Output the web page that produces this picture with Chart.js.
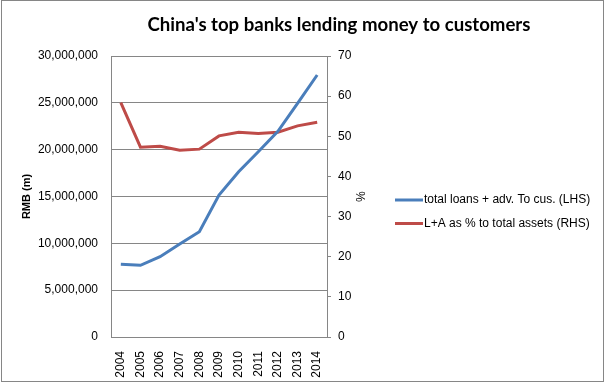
<!DOCTYPE html>
<html>
<head>
<meta charset="utf-8">
<script src="https://cdn.jsdelivr.net/npm/chart.js@4"></script>
<style>
  body { margin: 0; background: #fff; }
  canvas { display: block; }
</style>
</head>
<body>
<canvas id="bankChart" width="606" height="385"></canvas>
<script>
// Chart data
const chartTitle = "China's top banks lending money to customers";
const years = ["2004", "2005", "2006", "2007", "2008", "2009", "2010", "2011", "2012", "2013", "2014"];
const loanLabel = "total loans + adv. To cus. (LHS)";
const loans = [7760000, 7650000, 8570000, 9930000, 11240000, 15160000, 17650000, 19780000, 21950000, 24950000, 27970000];
const ratioLabel = "L+A as % to total assets (RHS)";
const ratio = [58.4, 47.3, 47.5, 46.5, 46.8, 50.1, 51.0, 50.7, 51.0, 52.6, 53.5];
const leftTicks = [0, 5000000, 10000000, 15000000, 20000000, 25000000, 30000000];
const rightTicks = [0, 10, 20, 30, 40, 50, 60, 70];

const gray = "#868686";
const font = "'Liberation Sans', Arial, sans-serif";

// Frame, title and legend drawn around the plot
const decorPlugin = {
  id: "decor",
  beforeDraw(chart) {
    const ctx = chart.ctx;
    ctx.save();
    ctx.fillStyle = "#fff";
    ctx.fillRect(0, 0, chart.width, chart.height);
    ctx.strokeStyle = gray;
    ctx.lineWidth = 1;
    ctx.strokeRect(1.5, 0.5, 602, 381);
    ctx.restore();
  },
  afterDraw(chart) {
    const ctx = chart.ctx;
    ctx.save();
    ctx.fillStyle = "#000";
    ctx.font = "bold 18.6px Lato, 'Open Sans', sans-serif";
    ctx.textAlign = "center";
    ctx.textBaseline = "middle";
    ctx.fillText(chartTitle, 339, 25);

    ctx.font = "12px " + font;
    ctx.textAlign = "left";
    chart.data.datasets.forEach((ds, i) => {
      const y = 200 + i * 23.5;
      ctx.strokeStyle = ds.borderColor;
      ctx.lineWidth = 3;
      ctx.beginPath();
      ctx.moveTo(395, y);
      ctx.lineTo(423, y);
      ctx.stroke();
      ctx.fillText(ds.label, 424, y);
    });
    ctx.restore();
  }
};

const ctx = document.getElementById("bankChart").getContext("2d");
new Chart(ctx, {
  type: "line",
  data: {
    labels: years,
    datasets: [
      {
        label: loanLabel,
        data: loans,
        yAxisID: "y",
        borderColor: "#4A7EBB",
        backgroundColor: "#4A7EBB",
        borderWidth: 3,
        pointRadius: 0,
        tension: 0
      },
      {
        label: ratioLabel,
        data: ratio,
        yAxisID: "y1",
        borderColor: "#BE4B48",
        backgroundColor: "#BE4B48",
        borderWidth: 3,
        pointRadius: 0,
        tension: 0
      }
    ]
  },
  plugins: [decorPlugin],
  options: {
    responsive: false,
    animation: false,
    devicePixelRatio: 1,
    layout: { padding: { left: 0, top: 56, right: 239, bottom: 0 } },
    plugins: {
      legend: { display: false },
      tooltip: { enabled: false }
    },
    scales: {
      x: {
        offset: true,
        grid: { display: false },
        border: { color: gray },
        ticks: {
          color: "#000",
          font: { family: font, size: 12 },
          minRotation: 90,
          maxRotation: 90,
          padding: 6
        },
        afterFit(scale) { scale.height = 385 - 337; }
      },
      y: {
        position: "left",
        min: 0,
        max: 30000000,
        afterBuildTicks(scale) { scale.ticks = leftTicks.map(v => ({ value: v })); },
        grid: { color: gray, drawTicks: false },
        border: { color: gray },
        ticks: {
          color: "#000",
          font: { family: font, size: 12 },
          padding: 13,
          callback: v => v.toLocaleString("en-US")
        },
        title: {
          display: true,
          text: "RMB (m)",
          color: "#000",
          font: { family: font, size: 11, weight: "bold" },
          padding: { top: 20, bottom: 0 }
        },
        afterFit(scale) { scale.width = 111; }
      },
      y1: {
        position: "right",
        min: 0,
        max: 70,
        afterBuildTicks(scale) { scale.ticks = rightTicks.map(v => ({ value: v })); },
        grid: { drawOnChartArea: false, color: gray, tickLength: 4 },
        border: { color: gray },
        ticks: {
          color: "#000",
          font: { family: font, size: 12 },
          padding: 7
        },
        title: {
          display: true,
          text: "%",
          color: "#000",
          font: { family: font, size: 12 },
          padding: { top: 0, bottom: 0 }
        },
        afterFit(scale) { scale.width = 40; }
      }
    }
  }
});
</script>
</body>
</html>
